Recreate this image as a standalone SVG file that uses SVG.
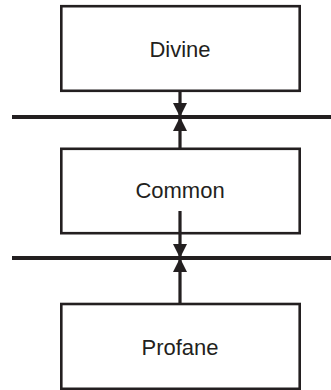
<svg xmlns="http://www.w3.org/2000/svg" width="331" height="390" viewBox="0 0 331 390">
  <style>
    .box { fill: #ffffff; stroke: #231f20; stroke-width: 2.6; }
    .label { font-family: "Liberation Sans", Arial, sans-serif; font-size: 22px; fill: #231f20; text-anchor: middle; }
    .rule { stroke: #231f20; stroke-width: 4; }
    .arrow { stroke: #231f20; stroke-width: 3.2; fill: none; marker-end: url(#head); }
  </style>
  <defs>
    <marker id="head" markerUnits="userSpaceOnUse" markerWidth="16" markerHeight="16" viewBox="0 0 16 16" refX="14" refY="8" orient="auto">
      <path d="M0,1 L14,8 L0,15 Z" fill="#231f20"/>
    </marker>
  </defs>

  <g id="node-divine">
    <rect class="box" x="61.3" y="6.2" width="238.4" height="84.6"/>
    <text class="label" x="180" y="57">Divine</text>
  </g>
  <g id="node-common">
    <rect class="box" x="61.3" y="148.8" width="238.4" height="84.4"/>
    <text class="label" x="180" y="198">Common</text>
  </g>
  <g id="node-profane">
    <rect class="box" x="61.3" y="304" width="238.4" height="84.8"/>
    <text class="label" x="180" y="355">Profane</text>
  </g>

  <g id="connectors">
    <line class="rule" x1="12" y1="117" x2="331" y2="117"/>
    <line class="rule" x1="12" y1="258" x2="331" y2="258"/>
    <line class="arrow" x1="180" y1="90" x2="180" y2="117"/>
    <line class="arrow" x1="180" y1="149" x2="180" y2="117"/>
    <line class="arrow" x1="180" y1="211" x2="180" y2="258"/>
    <line class="arrow" x1="180" y1="304" x2="180" y2="258"/>
  </g>
</svg>
